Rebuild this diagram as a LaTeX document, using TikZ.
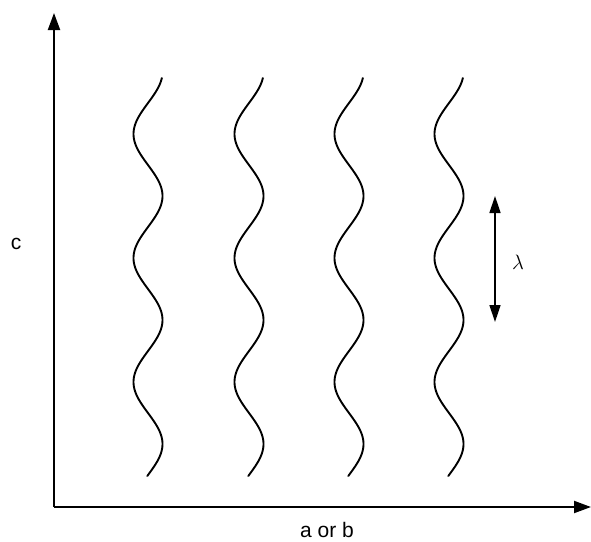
\documentclass[tikz,border=0pt]{standalone}
\usepackage{fontspec}
\setmainfont{Liberation Sans}
\usetikzlibrary{arrows.meta}
\begin{document}
\begin{tikzpicture}[x=1pt,y=-1pt,
  axis/.style={line width=2pt,-{Triangle[length=17pt,width=12pt]}},
  wave/.style={line width=1.9pt,line join=round,line cap=round},
  dimarrow/.style={line width=1.5pt,{Triangle[length=17pt,width=11pt]}-{Triangle[length=17pt,width=11pt]}},
  lbl/.style={font=\fontsize{21}{24}\selectfont,inner sep=0pt}]
\useasboundingbox (0,0) rectangle (591,541);
\coordinate (origin) at (54,507);
\coordinate (ytip) at (54,13);
\coordinate (xtip) at (591,507);
\draw[axis] (origin) -- (ytip);
\draw[axis] (origin) -- (xtip);
\node[lbl] (clabel) at (16,244) {c};
\node[lbl] (ablabel) at (327,530) {a or b};
\foreach \c in {148,249,349,449}{
  \draw[wave] plot[domain=78:476,samples=240,variable=\t,smooth] ({\c-14.5*cos(2.9032*(\t-134))},{\t});
}
\coordinate (lamtop) at (495,196);
\coordinate (lambot) at (495,322);
\draw[dimarrow] (lamtop) -- (lambot);
\node[lbl,font=\fontsize{22}{24}\selectfont] (lam) at (518,262) {$\lambda$};
\end{tikzpicture}
\end{document}
